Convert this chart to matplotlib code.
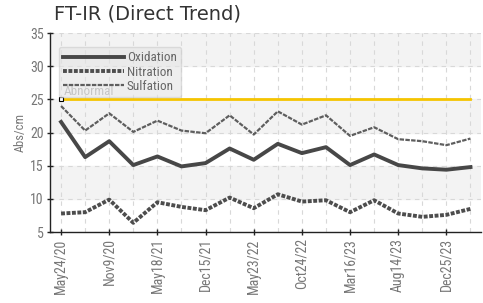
import matplotlib
matplotlib.use("Agg")
import matplotlib.pyplot as plt
from matplotlib.font_manager import findfont, FontProperties

dates = ["May24/20", "", "Nov9/20", "", "May18/21", "", "Dec15/21", "", "May23/22", "",
         "Oct24/22", "", "Mar16/23", "", "Aug14/23", "", "Dec25/23", ""]
oxidation = [21.6, 16.3, 18.7, 15.1, 16.4, 14.9, 15.4, 17.6, 15.9, 18.3, 16.9, 17.8, 15.1, 16.7, 15.1, 14.6, 14.4, 14.8]
nitration = [7.8, 8.0, 9.9, 6.4, 9.5, 8.8, 8.3, 10.2, 8.6, 10.7, 9.6, 9.8, 8.0, 9.8, 7.8, 7.3, 7.6, 8.5]
sulfation = [24.0, 20.3, 22.9, 20.1, 21.8, 20.3, 19.9, 22.6, 19.7, 23.2, 21.2, 22.6, 19.5, 20.8, 19.0, 18.7, 18.1, 19.1]
abnormal = 25

narrow_fp = None
for fam in ["Liberation Sans Narrow", "Roboto Condensed", "DejaVu Sans Condensed", "Open Sans Condensed"]:
    try:
        findfont(FontProperties(family=fam), fallback_to_default=False)
        narrow_fp = dict(family=fam)
        break
    except Exception:
        pass
if narrow_fp is None:
    p = findfont(FontProperties(family="DejaVu Sans", stretch="condensed"))
    if "Condensed" in p:
        narrow_fp = dict(family="DejaVu Sans", stretch="condensed")
    else:
        narrow_fp = dict(family="DejaVu Sans")

fig = plt.figure(figsize=(4.83, 3.03), dpi=100)
ax = fig.add_axes([0.1035, 0.234, 0.892, 0.657])

x = list(range(len(dates)))
ax.set_xlim(-0.46, 17.43)
ax.set_ylim(5, 35)

for lo in (10, 20, 30):
    ax.axhspan(lo, lo + 5, color="#f3f3f3", zorder=0)

ax.plot([x[0], x[-1]], [abnormal, abnormal], color="#f5c400", lw=2, zorder=2)
ax.plot([x[0]], [abnormal], marker="s", ms=3.5, mfc="white", mec="black", mew=0.8, zorder=3)
ax.text(x[0] + 0.1, abnormal + 0.6, "Abnormal", fontsize=9.5, color="#999999", zorder=1, **narrow_fp)

l1, = ax.plot(x, oxidation, color="#474747", lw=2.8, zorder=4, label="Oxidation")
l2, = ax.plot(x, nitration, color="#4d4d4d", lw=2.8, ls=(0, (1, 0.4)), zorder=4, label="Nitration")
l3, = ax.plot(x, sulfation, color="#5e5e5e", lw=1.6, ls=(0, (2, 0.6)), zorder=4, label="Sulfation")

ax.set_xticks(x[::2])
ax.set_xticklabels(dates[::2], rotation=90, fontsize=10, color="#666666", **narrow_fp)
ax.set_xticks(x, minor=True)
ax.set_yticks(range(5, 36, 5))
ax.set_yticklabels([str(v) for v in range(5, 36, 5)], fontsize=10, color="#666666", **narrow_fp)
ax.tick_params(axis="both", which="major", direction="inout", length=5, width=1, colors="#222222",
               labelcolor="#777777", pad=2)
ax.tick_params(axis="x", which="minor", length=0)

ax.grid(True, which="both", axis="x", ls=(0, (4, 4)), color="#d8d8d8", lw=0.8, zorder=1)
ax.grid(True, which="major", axis="y", ls=(0, (4, 4)), color="#d8d8d8", lw=0.8, zorder=1)
ax.set_axisbelow(True)

for s in ("top", "right"):
    ax.spines[s].set_visible(False)
for s in ("left", "bottom"):
    ax.spines[s].set_color("#222222")
    ax.spines[s].set_linewidth(1)

ax.set_ylabel("Abs/cm", fontsize=9, color="#777777", labelpad=2, **narrow_fp)

leg = ax.legend(handles=[l1, l2, l3], loc="upper left", bbox_to_anchor=(0.005, 0.965),
                frameon=True, handlelength=4.6, handletextpad=0.2,
                labelspacing=0.1, borderpad=0.35, prop=dict(size=9.5, **narrow_fp))
leg.get_frame().set_facecolor("#e4e4e4")
leg.get_frame().set_alpha(0.6)
leg.get_frame().set_edgecolor("#cccccc")
for t in leg.get_texts():
    t.set_color("#666666")

fig.text(0.112, 0.935, "FT-IR (Direct Trend)", fontsize=14, color="#333333", ha="left")

fig.savefig("out.png", dpi=100)
